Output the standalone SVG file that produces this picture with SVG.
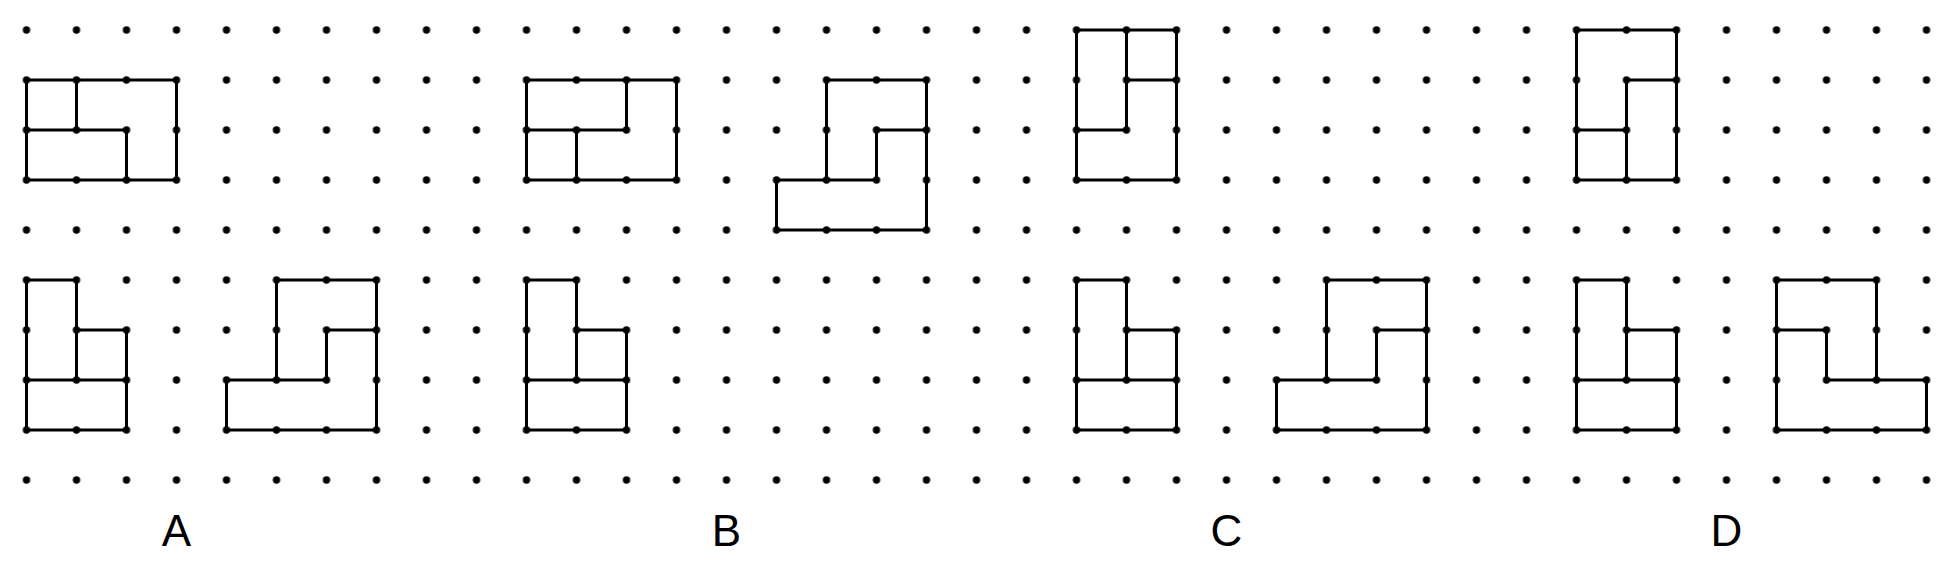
<svg xmlns="http://www.w3.org/2000/svg" width="1960" height="575" viewBox="0 0 1960 575">
<defs>
<style>
.fig{fill:none;stroke:#000;stroke-width:3;stroke-linecap:round;stroke-linejoin:round}
.lbl{font-family:"Liberation Sans",Arial,sans-serif;font-size:44px;fill:#000;text-anchor:middle}
</style>
<pattern id="dots" patternUnits="userSpaceOnUse" x="1.5" y="5" width="50" height="50">
<circle cx="25" cy="25" r="3.7" fill="#000"/>
</pattern>
</defs>
<rect width="1960" height="575" fill="#fff"/>
<rect id="grid" x="1.5" y="5" width="1950" height="500" fill="url(#dots)"/>
<g id="connectors">
<g id="A-top"><path class="fig" d="M26.5,80 H176.5 V180 H26.5 Z M76.5,80 V130 M26.5,130 H126.5 V180"/></g>
<g id="A-bottom-left"><path class="fig" d="M26.5,280 H76.5 V380 M76.5,330 H126.5 V430 H26.5 V280 M26.5,380 H126.5"/></g>
<g id="A-bottom-right"><path class="fig" d="M276.5,280 H376.5 V430 H226.5 V380 H326.5 V330 H376.5 M276.5,280 V380"/></g>
<g id="B-top-left"><path class="fig" d="M526.5,80 H676.5 V180 H526.5 Z M626.5,80 V130 H526.5 M576.5,130 V180"/></g>
<g id="B-top-right"><path class="fig" d="M826.5,80 H926.5 V230 H776.5 V180 H876.5 V130 H926.5 M826.5,80 V180"/></g>
<g id="B-bottom"><path class="fig" d="M526.5,280 H576.5 V380 M576.5,330 H626.5 V430 H526.5 V280 M526.5,380 H626.5"/></g>
<g id="C-top"><path class="fig" d="M1076.5,30 H1176.5 V180 H1076.5 Z M1126.5,30 V130 H1076.5 M1126.5,80 H1176.5"/></g>
<g id="C-bottom-left"><path class="fig" d="M1076.5,280 H1126.5 V380 M1126.5,330 H1176.5 V430 H1076.5 V280 M1076.5,380 H1176.5"/></g>
<g id="C-bottom-right"><path class="fig" d="M1326.5,280 H1426.5 V430 H1276.5 V380 H1376.5 V330 H1426.5 M1326.5,280 V380"/></g>
<g id="D-top"><path class="fig" d="M1576.5,30 H1676.5 V180 H1576.5 Z M1676.5,80 H1626.5 V180 M1576.5,130 H1626.5"/></g>
<g id="D-bottom-left"><path class="fig" d="M1576.5,280 H1626.5 V380 M1626.5,330 H1676.5 V430 H1576.5 V280 M1576.5,380 H1676.5"/></g>
<g id="D-bottom-right"><path class="fig" d="M1876.5,280 H1776.5 V430 H1926.5 V380 H1826.5 V330 H1776.5 M1876.5,280 V380"/></g>
</g>
<g id="labels">
<text class="lbl" x="176.5" y="546">A</text>
<text class="lbl" x="726.5" y="546">B</text>
<text class="lbl" x="1226.5" y="546">C</text>
<text class="lbl" x="1726.5" y="546">D</text>
</g>
</svg>
